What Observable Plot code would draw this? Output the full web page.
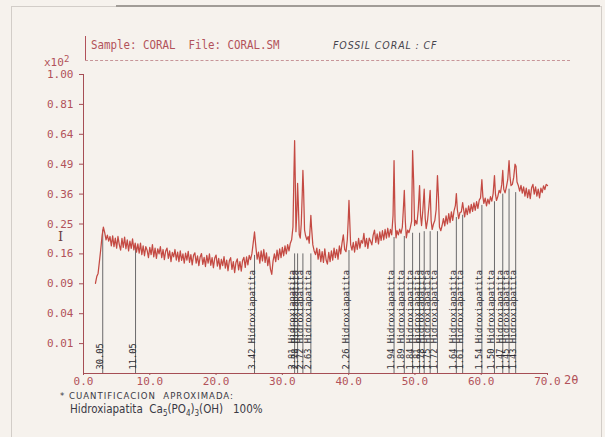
<!DOCTYPE html>
<html>
<head>
<meta charset="utf-8">
<script src="https://cdn.jsdelivr.net/npm/d3@7"></script>
<script src="https://cdn.jsdelivr.net/npm/@observablehq/plot@0.6"></script>
<style>
  html, body { margin: 0; padding: 0; background: #f6f2ed; }
  #page { position: relative; width: 605px; height: 437px; overflow: hidden; background: #f6f2ed; }
  #page svg { position: absolute; left: 0; top: 0; }
  .abs { position: absolute; white-space: nowrap; line-height: 1; }
  .plotter { font-family: "DejaVu Sans Mono", monospace; color: #b2525a; }
  .ink { font-family: "Liberation Sans Narrow", "DejaVu Sans Condensed", "Liberation Sans", sans-serif; color: #3a3944; }
</style>
</head>
<body>
<div id="page">
  <!-- sheet border -->
  <div class="abs" style="left:11px;top:6px;width:589px;height:440px;border:1px solid #d2cdc8;border-bottom:none;"></div>
  <div class="abs" style="left:116px;top:5px;width:484px;height:2px;background:#a19c97;"></div>
  <!-- header box -->
  <div class="abs" style="left:85px;top:36px;width:1px;height:24px;background:#b2525a;"></div>
  <div class="abs" style="left:85px;top:60px;width:485px;height:0;border-top:1px dashed #c79598;"></div>
  <div class="abs plotter" style="left:91px;top:39px;font-size:12px;transform:scaleX(0.9);transform-origin:left top;">Sample: CORAL&nbsp;&nbsp;File: CORAL.SM</div>
  <div class="abs ink" style="left:333px;top:40px;font-size:10.5px;font-style:italic;letter-spacing:0.9px;color:#46444c;">FOSSIL CORAL : CF</div>
  <!-- axis annotations -->
  <div class="abs plotter" style="left:44px;top:55px;font-size:11px;">x10<sup style="font-size:9px;vertical-align:4px;">2</sup></div>
  <div class="abs" style="left:58px;top:230px;font-family:'DejaVu Serif',serif;font-size:13px;color:#6e3f44;">I</div>
  <div class="abs plotter" style="left:564px;top:374px;font-size:12px;">2θ</div>
  <!-- notes below the chart -->
  <div class="abs ink" style="left:60px;top:391px;font-size:9.5px;letter-spacing:1px;">* CUANTIFICACION&nbsp; APROXIMADA:</div>
  <div class="abs ink" style="left:70px;top:404px;font-size:11.5px;">Hidroxiapatita&nbsp; Ca<sub style="font-size:8px;">5</sub>(PO<sub style="font-size:8px;">4</sub>)<sub style="font-size:8px;">3</sub>(OH)&nbsp;&nbsp; 100%</div>
</div>
<script>
// Diffractogram: 2θ (degrees) and intensity (x10²)
const scan = [
  [1.8,.091],[2.0,.105],[2.2,.112],[2.4,.140],[2.6,.172],[2.8,.212],[3.0,.240],[3.2,.222],[3.4,.200],[3.6,.214],[3.8,.196],[4.0,.210],
  [4.2,.182],[4.4,.212],[4.6,.180],[4.8,.205],[5.0,.176],[5.2,.210],[5.4,.186],[5.6,.170],[5.8,.204],[6.0,.178],
  [6.2,.208],[6.4,.174],[6.6,.200],[6.8,.168],[7.0,.196],[7.2,.175],[7.4,.203],[7.6,.171],[7.8,.190],[8.0,.165],
  [8.2,.188],[8.4,.162],[8.6,.190],[8.8,.158],[9.0,.182],[9.2,.155],[9.4,.180],[9.6,.170],[9.8,.150],[10.0,.178],
  [10.2,.158],[10.4,.186],[10.6,.152],[10.8,.176],[11.0,.148],[11.2,.174],[11.4,.160],[11.6,.180],[11.8,.150],[12.0,.172],
  [12.2,.145],[12.4,.168],[12.6,.176],[12.8,.148],[13.0,.168],[13.2,.140],[13.4,.164],[13.6,.152],[13.8,.172],[14.0,.144],
  [14.2,.165],[14.4,.140],[14.6,.168],[14.8,.143],[15.0,.160],[15.2,.136],[15.4,.162],[15.6,.144],[15.8,.167],[16.0,.138],
  [16.2,.158],[16.4,.132],[16.6,.156],[16.8,.163],[17.0,.136],[17.2,.155],[17.4,.130],[17.6,.152],[17.8,.161],[18.0,.133],
  [18.2,.151],[18.4,.128],[18.6,.156],[18.8,.136],[19.0,.160],[19.2,.131],[19.4,.150],[19.6,.125],[19.8,.149],[20.0,.157],
  [20.2,.129],[20.4,.148],[20.6,.122],[20.8,.146],[21.0,.130],[21.2,.153],[21.4,.124],[21.6,.144],[21.8,.118],[22.0,.142],
  [22.2,.150],[22.4,.121],[22.6,.140],[22.8,.114],[23.0,.138],[23.2,.147],[23.4,.120],[23.6,.140],[23.8,.117],[24.0,.143],
  [24.2,.151],[24.4,.126],[24.6,.152],[24.8,.132],[25.0,.156],[25.2,.145],[25.4,.160],[25.6,.190],[25.8,.224],[26.0,.180],
  [26.2,.146],[26.4,.165],[26.6,.136],[26.8,.168],[27.0,.142],[27.2,.172],[27.4,.138],[27.6,.163],[27.8,.130],[28.0,.152],
  [28.2,.122],[28.4,.110],[28.6,.142],[28.8,.160],[29.0,.140],[29.2,.170],[29.4,.145],[29.6,.174],[29.8,.150],[30.0,.178],
  [30.2,.155],[30.4,.182],[30.6,.160],[30.8,.186],[31.0,.168],[31.2,.190],[31.4,.200],[31.6,.240],[31.75,.450],[31.85,.606],
  [31.95,.420],[32.05,.225],[32.2,.300],[32.3,.404],[32.4,.330],[32.55,.215],[32.7,.205],[32.85,.250],[33.0,.360],[33.1,.461],
  [33.2,.380],[33.35,.230],[33.5,.213],[33.7,.200],[33.9,.210],[34.05,.190],[34.2,.240],[34.3,.280],[34.4,.240],[34.6,.185],
  [34.8,.168],[35.0,.158],[35.2,.176],[35.4,.146],[35.6,.172],[35.8,.140],[36.0,.166],[36.2,.138],[36.4,.174],[36.6,.144],
  [36.8,.134],[37.0,.164],[37.2,.140],[37.4,.168],[37.6,.144],[37.8,.176],[38.0,.150],[38.2,.172],[38.4,.146],[38.6,.182],
  [38.8,.160],[39.0,.190],[39.2,.215],[39.4,.172],[39.6,.166],[39.8,.200],[39.95,.270],[40.05,.335],[40.15,.270],[40.3,.186],
  [40.5,.170],[40.7,.192],[40.9,.165],[41.1,.195],[41.3,.172],[41.5,.204],[41.7,.176],[41.9,.198],[42.1,.190],[42.3,.220],
  [42.5,.180],[42.7,.204],[42.9,.175],[43.1,.205],[43.3,.196],[43.5,.185],[43.7,.214],[43.9,.230],[44.1,.192],[44.3,.218],
  [44.5,.188],[44.7,.224],[44.9,.198],[45.1,.228],[45.3,.200],[45.5,.232],[45.7,.205],[45.9,.236],[46.1,.208],[46.3,.232],
  [46.5,.215],[46.7,.280],[46.85,.507],[47.0,.260],[47.15,.206],[47.3,.228],[47.5,.215],[47.7,.233],[47.9,.220],[48.1,.240],
  [48.25,.300],[48.4,.375],[48.55,.260],[48.7,.206],[48.9,.230],[49.1,.222],[49.3,.238],[49.5,.260],[49.65,.556],[49.8,.420],
  [49.95,.245],[50.1,.262],[50.3,.250],[50.5,.300],[50.7,.395],[50.85,.280],[51.0,.245],[51.2,.300],[51.4,.380],[51.55,.270],
  [51.7,.235],[51.9,.262],[52.1,.310],[52.3,.375],[52.45,.260],[52.6,.232],[52.8,.250],[53.0,.262],[53.2,.300],[53.4,.438],
  [53.55,.350],[53.7,.240],[53.9,.228],[54.1,.245],[54.3,.268],[54.5,.244],[54.7,.278],[54.9,.250],[55.1,.286],[55.3,.255],
  [55.5,.292],[55.7,.262],[55.9,.296],[56.1,.315],[56.25,.362],[56.4,.300],[56.6,.268],[56.8,.290],[57.0,.292],[57.2,.327],
  [57.35,.300],[57.5,.274],[57.7,.306],[57.9,.282],[58.1,.314],[58.3,.288],[58.5,.320],[58.7,.294],[58.9,.326],[59.1,.298],
  [59.3,.330],[59.5,.305],[59.7,.336],[59.9,.345],[60.1,.420],[60.25,.350],[60.4,.324],[60.6,.344],[60.8,.314],[61.0,.340],
  [61.2,.322],[61.4,.350],[61.6,.332],[61.8,.362],[62.0,.438],[62.15,.360],[62.3,.335],[62.5,.350],[62.7,.375],[62.9,.365],
  [63.1,.400],[63.25,.461],[63.4,.380],[63.6,.365],[63.8,.390],[64.0,.420],[64.2,.507],[64.35,.430],[64.5,.395],[64.7,.400],
  [64.9,.430],[65.1,.490],[65.25,.480],[65.4,.410],[65.6,.395],[65.8,.372],[66.0,.396],[66.2,.364],[66.4,.390],[66.6,.352],
  [66.8,.384],[67.0,.346],[67.2,.378],[67.4,.342],[67.6,.386],[67.8,.400],[68.0,.360],[68.2,.390],[68.4,.352],[68.6,.380],
  [68.8,.345],[69.0,.384],[69.2,.366],[69.4,.394],[69.6,.378],[69.8,.400],[70.0,.395]
];

// Identified reflections: position (2θ), d-spacing (Å), phase, and marker height (x10²)
const peakAngle = [2.9, 7.85, 25.8, 31.85, 32.3, 33.1, 34.3, 40.05, 46.85, 48.4, 49.65, 50.7, 51.4, 52.3, 53.4, 56.25, 57.2, 60.1, 62.0, 63.25, 64.2, 65.2];
const peakD = ["30.05", "11.05", "3.42", "2.81", "2.78", "2.72", "2.63", "2.26", "1.94", "1.89", "1.84", "1.81", "1.78", "1.75", "1.72", "1.64", "1.61", "1.54", "1.50", "1.47", "1.45", "1.43"];
const peakPhase = ["", "", "Hidroxiapatita", "Hidroxiapatita", "Hidroxiapatita", "Hidroxiapatita", "Hidroxiapatita", "Hidroxiapatita",
  "Hidroxiapatita", "Hidroxiapatita", "Hidroxiapatita", "Hidroxiapatita", "Hidroxiapatita", "Hidroxiapatita", "Hidroxiapatita",
  "Hidroxiapatita", "Hidroxiapatita", "Hidroxiapatita", "Hidroxiapatita", "Hidroxiapatita", "Hidroxiapatita", "Hidroxiapatita"];
const peakTop = [.230, .178, .156, .160, .160, .160, .160, .169, .207, .210, .220, .220, .225, .225, .225, .272, .280, .316, .330, .360, .380, .366];

const yTicks = [0.01, 0.04, 0.09, 0.16, 0.25, 0.36, 0.49, 0.64, 0.81, 1.00];
const xTicks = [0, 10, 20, 30, 40, 50, 60, 70];

const markers = peakAngle.map((a, i) => ({
  angle: a,
  top: peakTop[i],
  label: peakPhase[i] ? `${peakD[i]} ${peakPhase[i]}` : peakD[i]
}));

const axisColor = "#a64e55";
const labelColor = "#b2525a";

const chart = Plot.plot({
  width: 605,
  height: 437,
  marginLeft: 83,
  marginRight: 58,
  marginTop: 74,
  marginBottom: 64,
  style: {background: "transparent", fontFamily: "DejaVu Sans Mono, monospace", fontSize: "11px", color: labelColor, overflow: "visible"},
  x: {domain: [0, 70]},
  y: {type: "sqrt", domain: [0, 1]},
  marks: [
    Plot.ruleX(markers, {x: "angle", y1: 0, y2: "top", stroke: "#47474a", strokeWidth: 0.8}),
    Plot.text(markers, {x: "angle", y: 0, text: "label", rotate: -90, textAnchor: "start", lineAnchor: "bottom",
      dy: -4, dx: 0, fontSize: 8.7, fill: "#323136"}),
    Plot.line(scan, {x: d => d[0], y: d => d[1], stroke: "#c44a43", strokeWidth: 1.25, strokeLinejoin: "round"}),
    Plot.ruleX([0], {stroke: axisColor}),
    Plot.ruleY([0], {x1: 0, x2: 70, stroke: axisColor}),
    Plot.axisY({ticks: yTicks, tickSize: 4, tickPadding: 6, tickFormat: d => d.toFixed(2), stroke: axisColor, fill: labelColor, label: null}),
    Plot.axisX({ticks: xTicks, tickSize: 2, tickPadding: 2, tickFormat: d => d.toFixed(1), stroke: axisColor, fill: labelColor, label: null})
  ]
});

document.getElementById("page").appendChild(chart);
</script>
</body>
</html>
